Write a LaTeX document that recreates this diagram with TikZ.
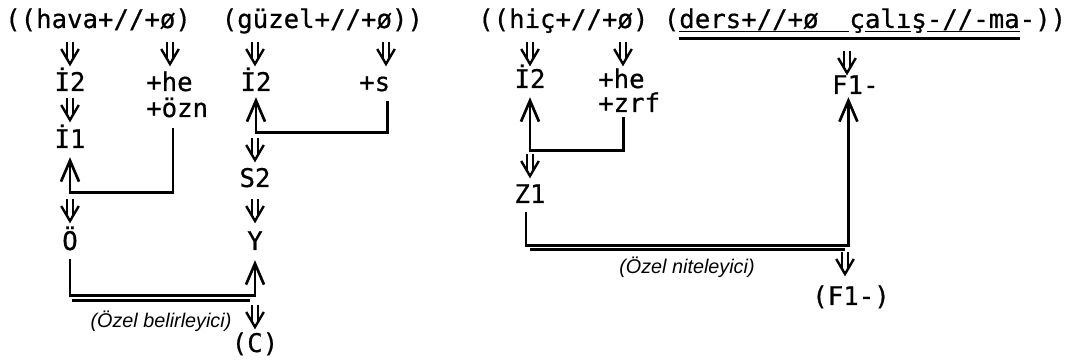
\documentclass[tikz,border=0pt]{standalone}
\usepackage{fontspec}
\usetikzlibrary{arrows.meta,calc}
\newfontfamily\codefont{DejaVu Sans Mono}[FakeBold=0.6]
\newfontfamily\glossfont{Liberation Sans}
\begin{document}
\begin{tikzpicture}[x=1pt,y=-1pt,
  word/.style={inner sep=0pt, anchor=base,
    font=\codefont\fontsize{25.7pt}{30pt}\selectfont},
  gloss/.style={inner sep=0pt, anchor=base,
    font=\glossfont\itshape\fontsize{19.8pt}{22pt}\selectfont},
  link/.style={line width=2.7pt, line join=miter},
  rise/.style={link, -{Straight Barb[length=21pt,width=18pt]}},
  bar/.style={line width=2.9pt},
  thinbar/.style={line width=1.8pt},
  derive/.pic={
    \draw[line width=2.2pt] (-2.7,0) -- (-2.7,16.2) (2.7,0) -- (2.7,16.2);
    \draw[line width=2.4pt, line join=miter, miter limit=4] (-8.8,7) -- (0,22) -- (8.8,7);
  }
]
\useasboundingbox (0,0) rectangle (1072,363);

% ---------- first phrase ----------
\node[word, anchor=base west] (top1) at (5,28) {((hava+//+ø)~~(güzel+//+ø))};
\node[word] (i2a) at (70,91) {İ2};
\node[word, anchor=base west] (hea) at (146,91) {+he};
\node[word, anchor=base west] (hea2) at (146,117) {+özn};
\node[word] (i2b) at (256,91) {İ2};
\node[word, anchor=base west] (sa) at (359,91) {+s};
\node[word] (i1a) at (70,148) {İ1};
\node[word] (s2) at (255,187) {S2};
\node[word] (oa) at (70,250) {Ö};
\node[word] (ya) at (255,250) {Y};
\node[word] (ca) at (255,352) {(C)};
\node[gloss] (g1) at (161,328) {(Özel belirleyici)};

\pic at (70,42) {derive};
\pic at (170,42) {derive};
\pic at (255,42) {derive};
\pic at (386,42) {derive};
\pic at (70,98) {derive};
\pic at (70,199) {derive};
\pic at (255,138) {derive};
\pic at (255,199) {derive};
\pic at (255,305) {derive};

\draw[rise] ([shift={(-4,10)}]hea2.south) -- ++(0,65) -| ([yshift=-9pt]i1a.south);
\draw[rise] ([shift={(12.5,9)}]sa.south) -- ++(0,32) -| ([yshift=-6pt]i2b.south);
\draw[rise] ([yshift=-8pt]oa.south) -- ++(0,37) -| ([yshift=-10pt]ya.south);
\draw[bar] (72,300.5) -- (250,300.5);

% ---------- second phrase ----------
\node[word, anchor=base west] (top2) at (478,28) {((hiç+//+ø) (ders+//+ø~~çalış-//-ma-))};
\draw[thinbar] (679,31.5) -- (849,31.5) (865,31.5) -- (911,31.5) (927,31.5) -- (1020,31.5);
\draw[bar] (679,38.5) -- (1020,38.5);

\node[word] (i2c) at (530,88) {İ2};
\node[word, anchor=base west] (hec) at (598,88) {+he};
\node[word, anchor=base west] (hec2) at (598,112) {+zrf};
\node[word, anchor=base west] (f1) at (832,94) {F1-};
\node[word] (z1) at (530,203) {Z1};
\node[word] (f1p) at (851,305) {(F1-)};
\node[gloss] (g2) at (687,274) {(Özel niteleyici)};

\pic at (530,42) {derive};
\pic at (623,42) {derive};
\pic at (847,51) {derive};
\pic at (530,154) {derive};
\pic at (845,252) {derive};

\draw[rise] ([shift={(-6,5)}]hec2.south) -- ++(0,33) -| ([yshift=-9pt]i2c.south);
\draw[rise] ([shift={(-4,9)}]z1.south) -- ++(0,33) -| ([shift={(-7,3)}]f1.south);
\draw[bar] (530,249.5) -- (845,249.5);
\end{tikzpicture}
\end{document}
